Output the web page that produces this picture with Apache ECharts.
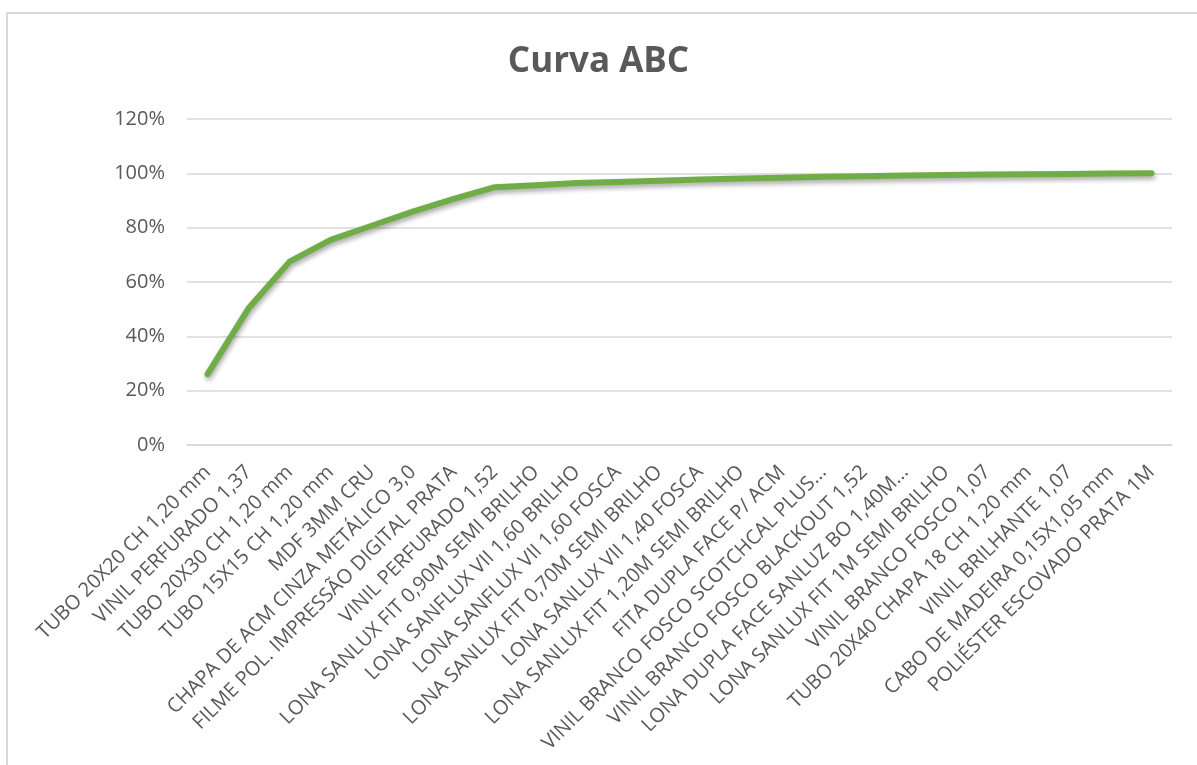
<!DOCTYPE html>
<html>
<head>
<meta charset="utf-8">
<title>Curva ABC</title>
<script src="https://cdn.jsdelivr.net/npm/echarts@6/dist/echarts.min.js"></script>
<style>
  html, body { margin: 0; padding: 0; background: #ffffff; }
  #chart { width: 1197px; height: 765px; }
</style>
</head>
<body>
<div id="chart"></div>
<script>
// Products ordered by share, and their cumulative percentage
const produtos = [
  'TUBO 20X20 CH 1,20 mm',
  'VINIL PERFURADO 1,37',
  'TUBO 20X30 CH 1,20 mm',
  'TUBO 15X15 CH 1,20 mm',
  'MDF 3MM CRU',
  'CHAPA DE ACM CINZA METÁLICO 3,0',
  'FILME POL. IMPRESSÃO DIGITAL PRATA',
  'VINIL PERFURADO 1,52',
  'LONA SANLUX FIT 0,90M SEMI BRILHO',
  'LONA SANFLUX VII 1,60 BRILHO',
  'LONA SANFLUX VII 1,60 FOSCA',
  'LONA SANLUX FIT 0,70M SEMI BRILHO',
  'LONA SANLUX VII 1,40 FOSCA',
  'LONA SANLUX FIT 1,20M SEMI BRILHO',
  'FITA DUPLA FACE P/ ACM',
  'VINIL BRANCO FOSCO SCOTCHCAL PLUS...',
  'VINIL BRANCO FOSCO BLACKOUT 1,52',
  'LONA DUPLA FACE SANLUZ BO 1,40M...',
  'LONA SANLUX FIT 1M SEMI BRILHO',
  'VINIL BRANCO FOSCO 1,07',
  'TUBO 20X40 CHAPA 18 CH 1,20 mm',
  'VINIL BRILHANTE 1,07',
  'CABO DE MADEIRA 0,15X1,05 mm',
  'POLIÉSTER ESCOVADO PRATA 1M'
];

const acumulado = [
  0.261, 0.503, 0.675, 0.755, 0.807, 0.859, 0.906, 0.949,
  0.956, 0.964, 0.968, 0.973, 0.977, 0.981, 0.984, 0.987,
  0.989, 0.992, 0.994, 0.996, 0.997, 0.998, 0.999, 1.000
];

const yMin = 0;
const yMax = 1.2;
const yStep = 0.2;

const textColor = '#595959';
const font = 'Open Sans';

const chart = echarts.init(document.getElementById('chart'), null, { renderer: 'canvas' });

chart.setOption({
  backgroundColor: '#ffffff',
  animation: false,
  graphic: [{
    type: 'rect',
    silent: true,
    shape: { x: 7, y: 13, width: 1300, height: 900 },
    style: { fill: 'none', stroke: '#d9d9d9', lineWidth: 2 }
  }],
  title: {
    text: 'Curva ABC',
    left: 'center',
    top: 40,
    textStyle: {
      fontFamily: font,
      fontWeight: 'bold',
      fontSize: 35,
      color: textColor
    }
  },
  grid: {
    left: 187,
    right: 25,
    top: 119,
    bottom: 320,
    containLabel: false
  },
  xAxis: {
    type: 'category',
    data: produtos,
    boundaryGap: true,
    axisLine: { show: true, lineStyle: { color: '#d9d9d9', width: 1.5 } },
    axisTick: { show: false },
    splitLine: { show: false },
    axisLabel: {
      interval: 0,
      rotate: 45,
      margin: 24,
      fontFamily: font,
      fontSize: 20,
      color: textColor
    }
  },
  yAxis: {
    type: 'value',
    min: yMin,
    max: yMax,
    interval: yStep,
    axisLine: { show: false },
    axisTick: { show: false },
    splitLine: { lineStyle: { color: '#d9d9d9', width: 1.5 } },
    axisLabel: {
      margin: 22,
      fontFamily: font,
      fontSize: 20,
      color: textColor,
      formatter: v => Math.round(v * 100) + '%'
    }
  },
  series: [{
    type: 'line',
    data: acumulado,
    symbol: 'none',
    smooth: false,
    lineStyle: {
      color: '#70ad47',
      width: 6,
      cap: 'round',
      join: 'round',
      shadowColor: 'rgba(0,0,0,0.35)',
      shadowBlur: 5,
      shadowOffsetX: 1,
      shadowOffsetY: 3
    }
  }]
});
</script>
</body>
</html>
